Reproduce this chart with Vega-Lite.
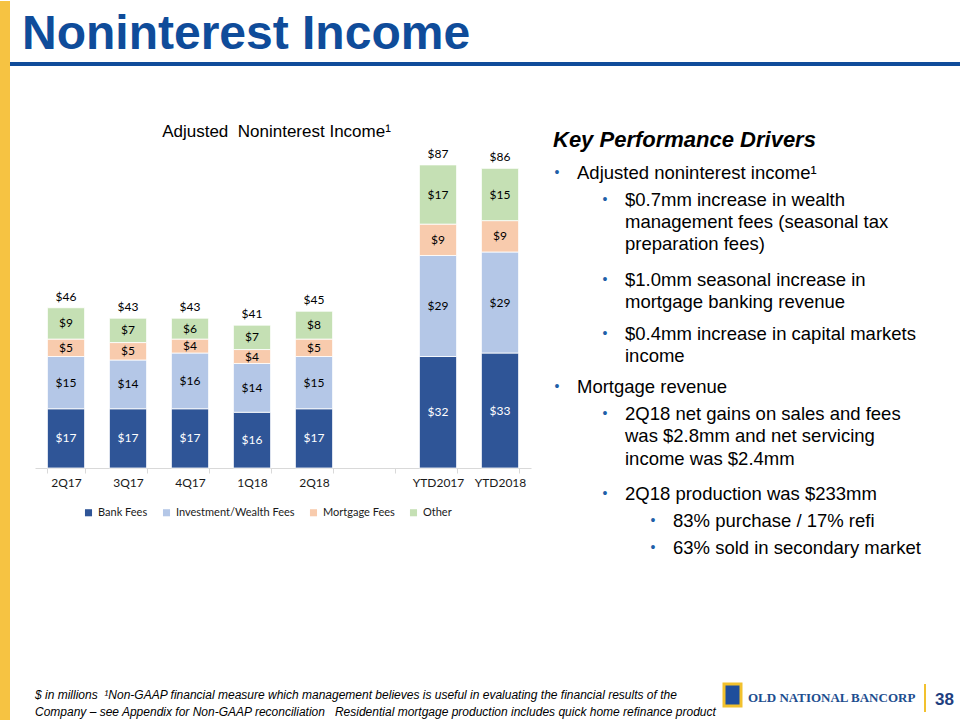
{
  "$schema": "https://vega.github.io/schema/vega-lite/v6.json",
  "background": "white",
  "padding": 0,
  "config": {
    "view": {"stroke": null},
    "font": "Liberation Sans",
    "title": {"font": "Liberation Sans", "color": "#000000"}
  },
  "spacing": 0,
  "hconcat": [
    {
      "width": 10,
      "height": 720,
      "view": {"fill": "#F6C342", "stroke": null},
      "data": {"values": [{}]},
      "mark": "text",
      "encoding": {"text": {"value": ""}}
    },
    {
      "spacing": 0,
      "vconcat": [
        {
          "width": 950,
          "height": 10,
          "data": {"values": [{}]},
          "mark": "text",
          "encoding": {"text": {"value": ""}}
        },
        {
          "columns": 1,
          "align": "none",
          "spacing": 53,
          "concat": [
            {
              "width": 950,
              "height": 4,
              "view": {"fill": "#0F4C9A", "stroke": null},
              "title": {"text": "Noninterest Income", "anchor": "start", "frame": "group", "dx": 12, "offset": -39, "baseline": "alphabetic", "fontSize": 48, "fontWeight": "bold", "color": "#0F4C9A"},
              "data": {"values": [{}]},
              "mark": "text",
              "encoding": {"text": {"value": ""}}
            },
            {
              "columns": 1,
              "align": "none",
              "spacing": 0,
              "concat": [
                {
                  "spacing": 22,
                  "resolve": {"scale": {"color": "independent"}, "legend": {"color": "independent"}},
                  "hconcat": [
                    {
                      "width": 521,
                      "height": 316,
                      "title": {"text": "Adjusted\u00a0\u00a0Noninterest Income¹", "fontSize": 17, "fontWeight": "normal", "anchor": "middle", "frame": "group", "dx": 6, "offset": -6, "baseline": "alphabetic"},
                      "data": {"values": [
                        {"period": "2Q17", "category": "Bank Fees", "value": 17},
                        {"period": "2Q17", "category": "Investment/Wealth Fees", "value": 15},
                        {"period": "2Q17", "category": "Mortgage Fees", "value": 5},
                        {"period": "2Q17", "category": "Other", "value": 9},
                        {"period": "3Q17", "category": "Bank Fees", "value": 17},
                        {"period": "3Q17", "category": "Investment/Wealth Fees", "value": 14},
                        {"period": "3Q17", "category": "Mortgage Fees", "value": 5},
                        {"period": "3Q17", "category": "Other", "value": 7},
                        {"period": "4Q17", "category": "Bank Fees", "value": 17},
                        {"period": "4Q17", "category": "Investment/Wealth Fees", "value": 16},
                        {"period": "4Q17", "category": "Mortgage Fees", "value": 4},
                        {"period": "4Q17", "category": "Other", "value": 6},
                        {"period": "1Q18", "category": "Bank Fees", "value": 16},
                        {"period": "1Q18", "category": "Investment/Wealth Fees", "value": 14},
                        {"period": "1Q18", "category": "Mortgage Fees", "value": 4},
                        {"period": "1Q18", "category": "Other", "value": 7},
                        {"period": "2Q18", "category": "Bank Fees", "value": 17},
                        {"period": "2Q18", "category": "Investment/Wealth Fees", "value": 15},
                        {"period": "2Q18", "category": "Mortgage Fees", "value": 5},
                        {"period": "2Q18", "category": "Other", "value": 8},
                        {"period": "YTD2017", "category": "Bank Fees", "value": 32},
                        {"period": "YTD2017", "category": "Investment/Wealth Fees", "value": 29},
                        {"period": "YTD2017", "category": "Mortgage Fees", "value": 9},
                        {"period": "YTD2017", "category": "Other", "value": 17},
                        {"period": "YTD2018", "category": "Bank Fees", "value": 33},
                        {"period": "YTD2018", "category": "Investment/Wealth Fees", "value": 29},
                        {"period": "YTD2018", "category": "Mortgage Fees", "value": 9},
                        {"period": "YTD2018", "category": "Other", "value": 15}
                      ]},
                      "transform": [
                        {"stack": "value", "groupby": ["period"], "sort": [{"field": "category", "order": "ascending"}], "as": ["v0", "v1"]}
                      ],
                      "encoding": {
                        "x": {
                          "field": "period", "type": "nominal", "sort": null,
                          "scale": {"domain": ["2Q17", "3Q17", "4Q17", "1Q18", "2Q18", " ", "YTD2017", "YTD2018"], "range": [25, 521], "paddingInner": 0.4},
                          "axis": {"title": null, "labelAngle": 0, "domainColor": "#D9D9D9", "tickColor": "#D9D9D9", "tickSize": 5, "tickBand": "extent", "labelFont": "Lato", "labelFontSize": 12, "labelColor": "#1a1a1a", "labelPadding": 4}
                        }
                      },
                      "layer": [
                        {
                          "mark": {"type": "bar", "stroke": "white", "strokeWidth": 0.8},
                          "encoding": {
                            "y": {"field": "v0", "type": "quantitative", "scale": {"domain": [0, 90.7], "nice": false}, "axis": null},
                            "y2": {"field": "v1"},
                            "color": {
                              "field": "category", "type": "nominal",
                              "scale": {"domain": ["Bank Fees", "Investment/Wealth Fees", "Mortgage Fees", "Other"], "range": ["#2F5597", "#B4C7E7", "#F8CBAD", "#C5E0B4"]},
                              "legend": {"title": null, "orient": "none", "legendX": 73, "legendY": 355, "direction": "horizontal", "symbolType": "square", "symbolSize": 50, "symbolStrokeWidth": 0, "labelFont": "Lato", "labelFontSize": 11, "labelColor": "#1a1a1a", "columnPadding": 13, "labelOffset": 4}
                            }
                          }
                        },
                        {
                          "transform": [
                            {"fold": ["v0", "v1"], "as": ["edge", "pos"]},
                            {"aggregate": [{"op": "mean", "field": "pos", "as": "mid"}, {"op": "max", "field": "value", "as": "value"}], "groupby": ["period", "category"]}
                          ],
                          "mark": {"type": "text", "font": "Lato", "fontSize": 12, "baseline": "middle"},
                          "encoding": {
                            "y": {"field": "mid", "type": "quantitative"},
                            "text": {"field": "value", "type": "quantitative", "format": "$.0f"},
                            "color": {"condition": {"test": "datum.category === 'Bank Fees'", "value": "white"}, "value": "black"}
                          }
                        },
                        {
                          "transform": [{"aggregate": [{"op": "sum", "field": "value", "as": "total"}], "groupby": ["period"]}],
                          "mark": {"type": "text", "font": "Lato", "fontSize": 12, "baseline": "middle", "dy": -11, "color": "black"},
                          "encoding": {
                            "y": {"field": "total", "type": "quantitative"},
                            "text": {"field": "total", "type": "quantitative", "format": "$.0f"}
                          }
                        }
                      ]
                    },
                    {
                      "width": 407,
                      "height": 526,
                      "title": {"text": "Key Performance Drivers", "anchor": "start", "frame": "group", "offset": -17, "baseline": "alphabetic", "fontSize": 22, "fontStyle": "italic", "fontWeight": "bold", "color": "#000000"},
                      "data": {"values": [
                        {"line": 1, "lev": 1, "text": "Adjusted noninterest income¹"},
                        {"line": 2, "lev": 2, "text": "$0.7mm increase in wealth\nmanagement fees (seasonal tax\npreparation fees)"},
                        {"line": 5, "lev": 2, "text": "$1.0mm seasonal increase in\nmortgage banking revenue"},
                        {"line": 7, "lev": 2, "text": "$0.4mm increase in capital markets\nincome"},
                        {"line": 9, "lev": 1, "text": "Mortgage revenue"},
                        {"line": 10, "lev": 2, "text": "2Q18 net gains on sales and fees\nwas $2.8mm and net servicing\nincome was $2.4mm"},
                        {"line": 13, "lev": 2, "text": "2Q18 production was $233mm"},
                        {"line": 14, "lev": 3, "text": "83% purchase / 17% refi"},
                        {"line": 15, "lev": 3, "text": "63% sold in secondary market"}
                      ]},
                      "encoding": {
                        "y": {"field": "line", "type": "quantitative", "scale": {"domain": [1, 15], "range": [27, 402]}, "axis": null},
                        "x": {"field": "lev", "type": "quantitative", "scale": {"domain": [1, 3], "range": [24, 120]}, "axis": null}
                      },
                      "layer": [
                        {
                          "mark": {"type": "text", "align": "left", "baseline": "alphabetic", "fontSize": 18.5, "lineHeight": 22.3, "lineBreak": "\n", "color": "#000000"},
                          "encoding": {"text": {"field": "text"}}
                        },
                        {
                          "mark": {"type": "text", "align": "center", "baseline": "alphabetic", "dx": -20, "dy": -2, "fontSize": 14, "color": "#1F5FA8"},
                          "encoding": {"text": {"value": "•"}}
                        }
                      ]
                    }
                  ]
                },
                {
                  "spacing": 5,
                  "hconcat": [
                    {
                      "width": 707,
                      "height": 1,
                      "title": {"text": ["$ in millions\u00a0\u00a0¹Non-GAAP financial measure which management believes is useful in evaluating the financial results of the", "Company – see Appendix for Non-GAAP reconciliation\u00a0\u00a0\u00a0Residential mortgage production includes quick home refinance product"], "orient": "bottom", "anchor": "start", "frame": "group", "dx": 25, "offset": 0, "fontSize": 12, "fontStyle": "italic", "fontWeight": "normal", "lineHeight": 17, "color": "#000000"},
                      "data": {"values": [{}]},
                      "mark": "text",
                      "encoding": {"text": {"value": ""}}
                    },
                    {
                      "width": 17,
                      "height": 22,
                      "view": {"fill": "#1F4E9C", "stroke": "#F2C12E", "strokeWidth": 3},
                      "data": {"values": [{}]},
                      "mark": "text",
                      "encoding": {"text": {"value": ""}}
                    },
                    {
                      "width": 171,
                      "height": 1,
                      "title": {"text": "OLD NATIONAL BANCORP", "orient": "bottom", "anchor": "start", "frame": "group", "offset": 2, "font": "Liberation Serif", "fontSize": 13, "fontWeight": "bold", "color": "#1D4E8F"},
                      "data": {"values": [{}]},
                      "mark": "text",
                      "encoding": {"text": {"value": ""}}
                    },
                    {
                      "width": 2,
                      "height": 28,
                      "view": {"fill": "#F2C12E", "stroke": null},
                      "data": {"values": [{}]},
                      "mark": "text",
                      "encoding": {"text": {"value": ""}}
                    },
                    {
                      "width": 25,
                      "height": 1,
                      "title": {"text": "38", "orient": "bottom", "anchor": "start", "frame": "group", "dx": 4, "offset": 2, "fontSize": 17, "fontWeight": "bold", "color": "#1F3F7F"},
                      "data": {"values": [{}]},
                      "mark": "text",
                      "encoding": {"text": {"value": ""}}
                    }
                  ]
                }
              ]
            }
          ]
        }
      ]
    }
  ]
}
